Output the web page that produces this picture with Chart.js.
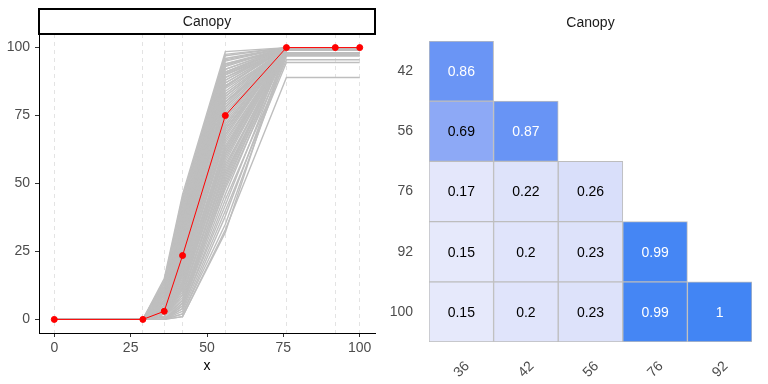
<!DOCTYPE html>
<html>
<head>
<meta charset="utf-8">
<script src="https://cdn.jsdelivr.net/npm/chart.js@4.4.0/dist/chart.umd.min.js"></script>
<style>
  body { margin: 0; background: #fff; }
  .panel { position: absolute; top: 0; width: 384px; height: 384px; }
</style>
</head>
<body>
<div class="panel" style="left:0"><canvas id="linePlot" width="384" height="384"></canvas></div>
<div class="panel" style="left:384px"><canvas id="corPlot" width="384" height="384"></canvas></div>
<script>
// left panel: x positions, observed (red) curve and simulated (grey) curves
var xValues = [0, 29, 36, 42, 56, 76, 92, 100];
var observed = [0, 0, 3, 23.5, 75, 100, 100, 100];
var xTicks = [0, 25, 50, 75, 100];
var yTicks = [0, 25, 50, 75, 100];
var simulated = [
    [0, 0, 15, 46, 98.5, 100, 100, 100],
    [0, 0, 14, 45, 97.5, 100, 100, 100],
    [0, 0, 14, 35, 92, 100, 100, 100],
    [0, 0, 13, 44, 97, 100, 100, 100],
    [0, 0, 13, 42, 95.5, 100, 100, 100],
    [0, 0, 12, 43, 96, 100, 100, 100],
    [0, 0, 12, 38, 94, 100, 100, 100],
    [0, 0, 12, 30, 80, 100, 100, 100],
    [0, 0, 11, 41, 95, 100, 100, 100],
    [0, 0, 11, 39, 93.5, 100, 100, 100],
    [0, 0, 11, 36, 91, 100, 100, 100],
    [0, 0, 10, 40, 94, 99, 99, 99],
    [0, 0, 10, 37, 92, 100, 100, 100],
    [0, 0, 10, 33, 88, 100, 100, 100],
    [0, 0, 9, 38, 93, 100, 100, 100],
    [0, 0, 9, 37, 91, 100, 100, 100],
    [0, 0, 9, 36, 90.5, 100, 100, 100],
    [0, 0, 9, 32, 87, 100, 100, 100],
    [0, 0, 8, 36, 90, 99, 99, 99],
    [0, 0, 8, 35, 89, 100, 100, 100],
    [0, 0, 8, 34, 89, 99, 99, 99],
    [0, 0, 8, 30, 86, 100, 100, 100],
    [0, 0, 7, 34, 88, 100, 100, 100],
    [0, 0, 7, 33, 86, 100, 100, 100],
    [0, 0, 7, 31, 87, 100, 100, 100],
    [0, 0, 7, 26, 83, 100, 100, 100],
    [0, 0, 6, 32, 85, 99, 99, 99],
    [0, 0, 6, 29, 85.5, 100, 100, 100],
    [0, 0, 6, 28, 83, 100, 100, 100],
    [0, 0, 6, 20, 90, 100, 100, 100],
    [0, 0, 6, 30, 84, 100, 100, 100],
    [0, 0, 5, 29, 82, 100, 100, 100],
    [0, 0, 5, 28, 81, 100, 100, 100],
    [0, 0, 5, 27, 80, 98, 98, 98],
    [0, 0, 5, 26, 82, 100, 100, 100],
    [0, 0, 5, 25, 80, 100, 100, 100],
    [0, 0, 5, 22, 78, 100, 100, 100],
    [0, 0, 4, 26, 79, 100, 100, 100],
    [0, 0, 4, 25, 77, 100, 100, 100],
    [0, 0, 4, 24, 76, 99, 99, 99],
    [0, 0, 4, 23, 78, 100, 100, 100],
    [0, 0, 4, 22, 76, 100, 100, 100],
    [0, 0, 4, 20, 74, 100, 100, 100],
    [0, 0, 3, 23, 74, 100, 100, 100],
    [0, 0, 3, 22, 73, 100, 100, 100],
    [0, 0, 3, 21, 71, 100, 100, 100],
    [0, 0, 3, 20, 75, 100, 100, 100],
    [0, 0, 3, 20, 70, 98, 98, 98],
    [0, 0, 3, 19, 72, 100, 100, 100],
    [0, 0, 3, 18, 71, 100, 100, 100],
    [0, 0, 3, 16, 68, 100, 100, 100],
    [0, 0, 2, 30, 70, 100, 100, 100],
    [0, 0, 2, 19, 69, 100, 100, 100],
    [0, 0, 2, 18, 67, 100, 100, 100],
    [0, 0, 2, 17, 68, 100, 100, 100],
    [0, 0, 2, 17, 66, 99, 99, 99],
    [0, 0, 2, 16, 64, 100, 100, 100],
    [0, 0, 2, 15, 63, 100, 100, 100],
    [0, 0, 2, 14, 65, 100, 100, 100],
    [0, 0, 2, 13, 62, 100, 100, 100],
    [0, 0, 2, 12, 63, 100, 100, 100],
    [0, 0, 1, 14, 61, 100, 100, 100],
    [0, 0, 1, 13, 60, 99, 99, 99],
    [0, 0, 1, 12, 58, 100, 100, 100],
    [0, 0, 1, 12, 61, 100, 100, 100],
    [0, 0, 1, 11, 59, 100, 100, 100],
    [0, 0, 1, 11, 57, 97.5, 97.5, 97.5],
    [0, 0, 1, 10, 55, 100, 100, 100],
    [0, 0, 1, 9, 56, 100, 100, 100],
    [0, 0, 1, 9, 54, 98, 98, 98],
    [0, 0, 1, 8, 52, 100, 100, 100],
    [0, 0, 1, 7, 53, 100, 100, 100],
    [0, 0, 0, 7, 50, 99, 99, 99],
    [0, 0, 0, 6, 51, 100, 100, 100],
    [0, 0, 0, 6, 48, 97, 97, 97],
    [0, 0, 0, 5, 49, 99, 99, 99],
    [0, 0, 0, 5, 46, 100, 100, 100],
    [0, 0, 0, 4, 44, 95.5, 95.5, 95.5],
    [0, 0, 0, 4, 42, 99, 99, 99],
    [0, 0, 0, 3, 40, 94.5, 94.5, 94.5],
    [0, 0, 0, 2, 38, 98, 98, 98],
    [0, 0, 0, 2, 35, 97, 97, 97],
    [0, 0, 0, 1, 33, 89, 89, 89],
    [0, 0, 0, 1, 32, 100, 100, 100]
];

// right panel: correlation matrix (lower triangle)
var corCols = ['36', '42', '56', '76', '92'];
var corRows = ['42', '56', '76', '92', '100'];
var corValues = [
    [0.86],
    [0.69, 0.87],
    [0.17, 0.22, 0.26],
    [0.15, 0.2, 0.23, 0.99],
    [0.15, 0.2, 0.23, 0.99, 1]
];

Chart.defaults.font.family = "'Liberation Sans', Arial, sans-serif";
Chart.defaults.font.size = 14;
Chart.defaults.animation = false;

function toPoints(ys) {
    return xValues.map(function (x, i) { return { x: x, y: ys[i] }; });
}

var lineDatasets = [{
    data: toPoints(observed),
    borderColor: '#ff0000',
    backgroundColor: '#ff0000',
    borderWidth: 1,
    pointRadius: 3,
    pointHoverRadius: 3
}];
simulated.forEach(function (s) {
    lineDatasets.push({
        data: toPoints(s),
        borderColor: '#bebebe',
        borderWidth: 1.4,
        pointRadius: 0
    });
});

// facet strip above the left panel
var stripPlugin = {
    id: 'strip',
    afterDraw: function (chart) {
        var ctx = chart.ctx, a = chart.chartArea;
        ctx.save();
        ctx.strokeStyle = '#000';
        ctx.lineWidth = 2;
        ctx.strokeRect(a.left, 9, a.right - a.left, 25);
        ctx.fillStyle = '#1a1a1a';
        ctx.textAlign = 'center';
        ctx.textBaseline = 'middle';
        ctx.font = "14px 'Liberation Sans', Arial, sans-serif";
        ctx.fillText('Canopy', (a.left + a.right) / 2, 22);
        ctx.restore();
    }
};

new Chart(document.getElementById('linePlot'), {
    type: 'line',
    data: { datasets: lineDatasets },
    options: {
        responsive: false,
        layout: { padding: { top: 34, right: 9, left: 0, bottom: 0 } },
        plugins: { legend: { display: false }, tooltip: { enabled: false } },
        scales: {
            x: {
                type: 'linear',
                min: -5,
                max: 105,
                afterFit: function (scale) { scale.height = 51; },
                afterBuildTicks: function (scale) {
                    var all = xTicks.concat(xValues).filter(function (v, i, arr) { return arr.indexOf(v) === i; });
                    all.sort(function (a, b) { return a - b; });
                    scale.ticks = all.map(function (v) { return { value: v }; });
                },
                ticks: {
                    autoSkip: false,
                    maxRotation: 0,
                    padding: 3,
                    color: '#4d4d4d',
                    callback: function (v) { return xTicks.indexOf(v) >= 0 ? String(v) : ''; }
                },
                grid: {
                    color: function (c) { return xValues.indexOf(c.tick.value) >= 0 ? '#e3e3e3' : 'rgba(0,0,0,0)'; },
                    tickColor: function (c) { return xTicks.indexOf(c.tick.value) >= 0 ? '#333333' : 'rgba(0,0,0,0)'; },
                    tickLength: 4,
                    tickBorderDash: []
                },
                border: { display: true, color: '#000', width: 1, dash: [4, 4] },
                title: { display: true, text: 'x', color: '#000', padding: { top: 0, bottom: 9 } }
            },
            y: {
                min: -5,
                max: 105,
                afterFit: function (scale) { scale.width = 39; },
                afterBuildTicks: function (scale) {
                    scale.ticks = yTicks.map(function (v) { return { value: v }; });
                },
                ticks: { padding: 5, color: '#4d4d4d' },
                grid: { drawOnChartArea: false, tickLength: 4, tickColor: '#333333' },
                border: { display: true, color: '#000', width: 1 }
            }
        }
    },
    plugins: [stripPlugin]
});

// colour scale for correlation cells
var colorStops = [
    [0.0, [244, 245, 253]],
    [0.15, [230, 233, 251]],
    [0.26, [217, 223, 250]],
    [0.69, [141, 169, 246]],
    [0.87, [104, 148, 245]],
    [1.0, [66, 133, 244]]
];
function cellColor(v) {
    for (var i = 1; i < colorStops.length; i++) {
        if (v <= colorStops[i][0]) {
            var a = colorStops[i - 1], b = colorStops[i];
            var t = (v - a[0]) / (b[0] - a[0]);
            var c = a[1].map(function (ch, k) { return Math.round(ch + (b[1][k] - ch) * t); });
            return 'rgb(' + c.join(',') + ')';
        }
    }
    return 'rgb(66,133,244)';
}

var n = corRows.length;
var corDatasets = corRows.map(function (row, r) {
    var vals = corValues[r];
    return {
        label: row,
        data: corCols.map(function (col, c) { return c < vals.length ? [n - 1 - r, n - r] : null; }),
        backgroundColor: corCols.map(function (col, c) { return c < vals.length ? cellColor(vals[c]) : 'rgba(0,0,0,0)'; }),
        borderColor: '#bdbdbd',
        borderWidth: 1,
        borderSkipped: false
    };
});

var cellTextPlugin = {
    id: 'cellText',
    afterDatasetsDraw: function (chart) {
        var ctx = chart.ctx;
        ctx.save();
        ctx.textAlign = 'center';
        ctx.textBaseline = 'middle';
        ctx.font = "14px 'Liberation Sans', Arial, sans-serif";
        corValues.forEach(function (vals, r) {
            var meta = chart.getDatasetMeta(r);
            vals.forEach(function (v, c) {
                var bar = meta.data[c];
                ctx.fillStyle = v > 0.8 ? '#ffffff' : '#000000';
                ctx.fillText(String(v), bar.x, (bar.y + bar.base) / 2 + 1);
            });
        });
        var a = chart.chartArea;
        ctx.fillStyle = '#1a1a1a';
        ctx.fillText('Canopy', (a.left + a.right) / 2, 23);
        ctx.restore();
    }
};

new Chart(document.getElementById('corPlot'), {
    type: 'bar',
    data: { labels: corCols, datasets: corDatasets },
    options: {
        responsive: false,
        layout: { padding: { top: 41, right: 16, left: 0, bottom: 0 } },
        datasets: { bar: { barPercentage: 1, categoryPercentage: 1, grouped: false } },
        plugins: { legend: { display: false }, tooltip: { enabled: false } },
        scales: {
            x: {
                afterFit: function (scale) { scale.height = 42; },
                ticks: { minRotation: 45, maxRotation: 45, padding: 8, labelOffset: 6, color: '#4d4d4d' },
                grid: { display: false },
                border: { display: false }
            },
            y: {
                min: 0,
                max: n,
                afterFit: function (scale) { scale.width = 45; },
                afterBuildTicks: function (scale) {
                    scale.ticks = corRows.map(function (row, r) { return { value: n - 1 - r + 0.5 }; });
                },
                ticks: {
                    padding: 8,
                    color: '#4d4d4d',
                    callback: function (v) { return corRows[n - 1 - Math.floor(v)]; }
                },
                grid: { display: false },
                border: { display: false }
            }
        }
    },
    plugins: [cellTextPlugin]
});
</script>
</body>
</html>
